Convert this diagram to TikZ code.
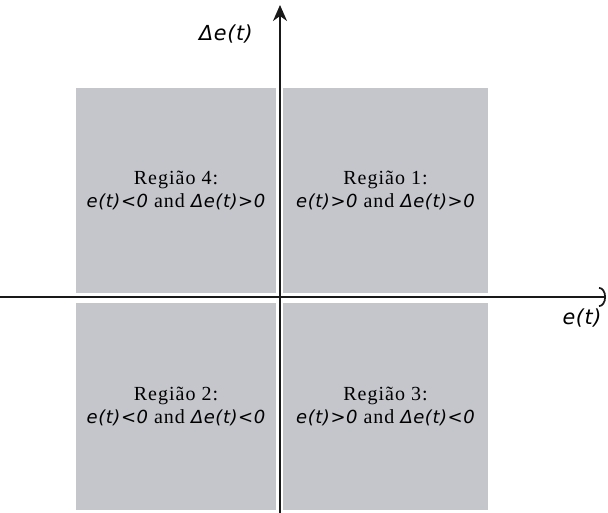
\documentclass[tikz,border=0pt]{standalone}
\usepackage{fontspec}
\setmainfont{Liberation Serif}[LetterSpace=5]
\newfontfamily\varfont{DejaVu Sans}[Scale=0.9, LetterSpace=3]
\usetikzlibrary{arrows.meta,positioning}
\definecolor{regiongray}{RGB}{196,198,204}
\newcommand{\ev}[1]{{\varfont\itshape #1}}

\begin{document}
\begin{tikzpicture}[
  x=1pt, y=-1pt,
  region/.style={fill=regiongray, draw=none, align=center, inner sep=0pt,
    font=\fontsize{20}{23}\selectfont},
  axis/.style={line width=1.7pt, draw=black!90},
  axislabel/.style={inner sep=1pt, font=\fontsize{23}{26}\selectfont}
]
\useasboundingbox (0,0) rectangle (608,513);

% The four regions of the error plane.
\node[region, minimum width=200pt, minimum height=205pt] (r4) at (176,190.5)
  {Região 4:\\\ev{e(t)<0} and \ev{Δe(t)>0}};
\node[region, minimum width=205pt, minimum height=205pt] (r1) at (385.5,190.5)
  {Região 1:\\\ev{e(t)>0} and \ev{Δe(t)>0}};
\node[region, minimum width=200pt, minimum height=207pt] (r2) at (176,406.5)
  {Região 2:\\\ev{e(t)<0} and \ev{Δe(t)<0}};
\node[region, minimum width=205pt, minimum height=207pt] (r3) at (385.5,406.5)
  {Região 3:\\\ev{e(t)>0} and \ev{Δe(t)<0}};

% Axes.
\coordinate (xleft) at (0,297);
\coordinate (xright) at (606,297);
\coordinate (ybottom) at (280,513);
\coordinate (ytop) at (280,5);
\draw[axis, -{Arc Barb[length=7pt, width=20pt]}] (xleft) -- (xright);
\draw[axis, -{Stealth[length=16pt, width=14pt, inset=5pt]}] (ybottom) -- (ytop);

\node[axislabel] (delabel) at (226,34) {\ev{Δe(t)}};
\node[axislabel] (elabel) at (582,318) {\ev{e(t)}};
\end{tikzpicture}
\end{document}
